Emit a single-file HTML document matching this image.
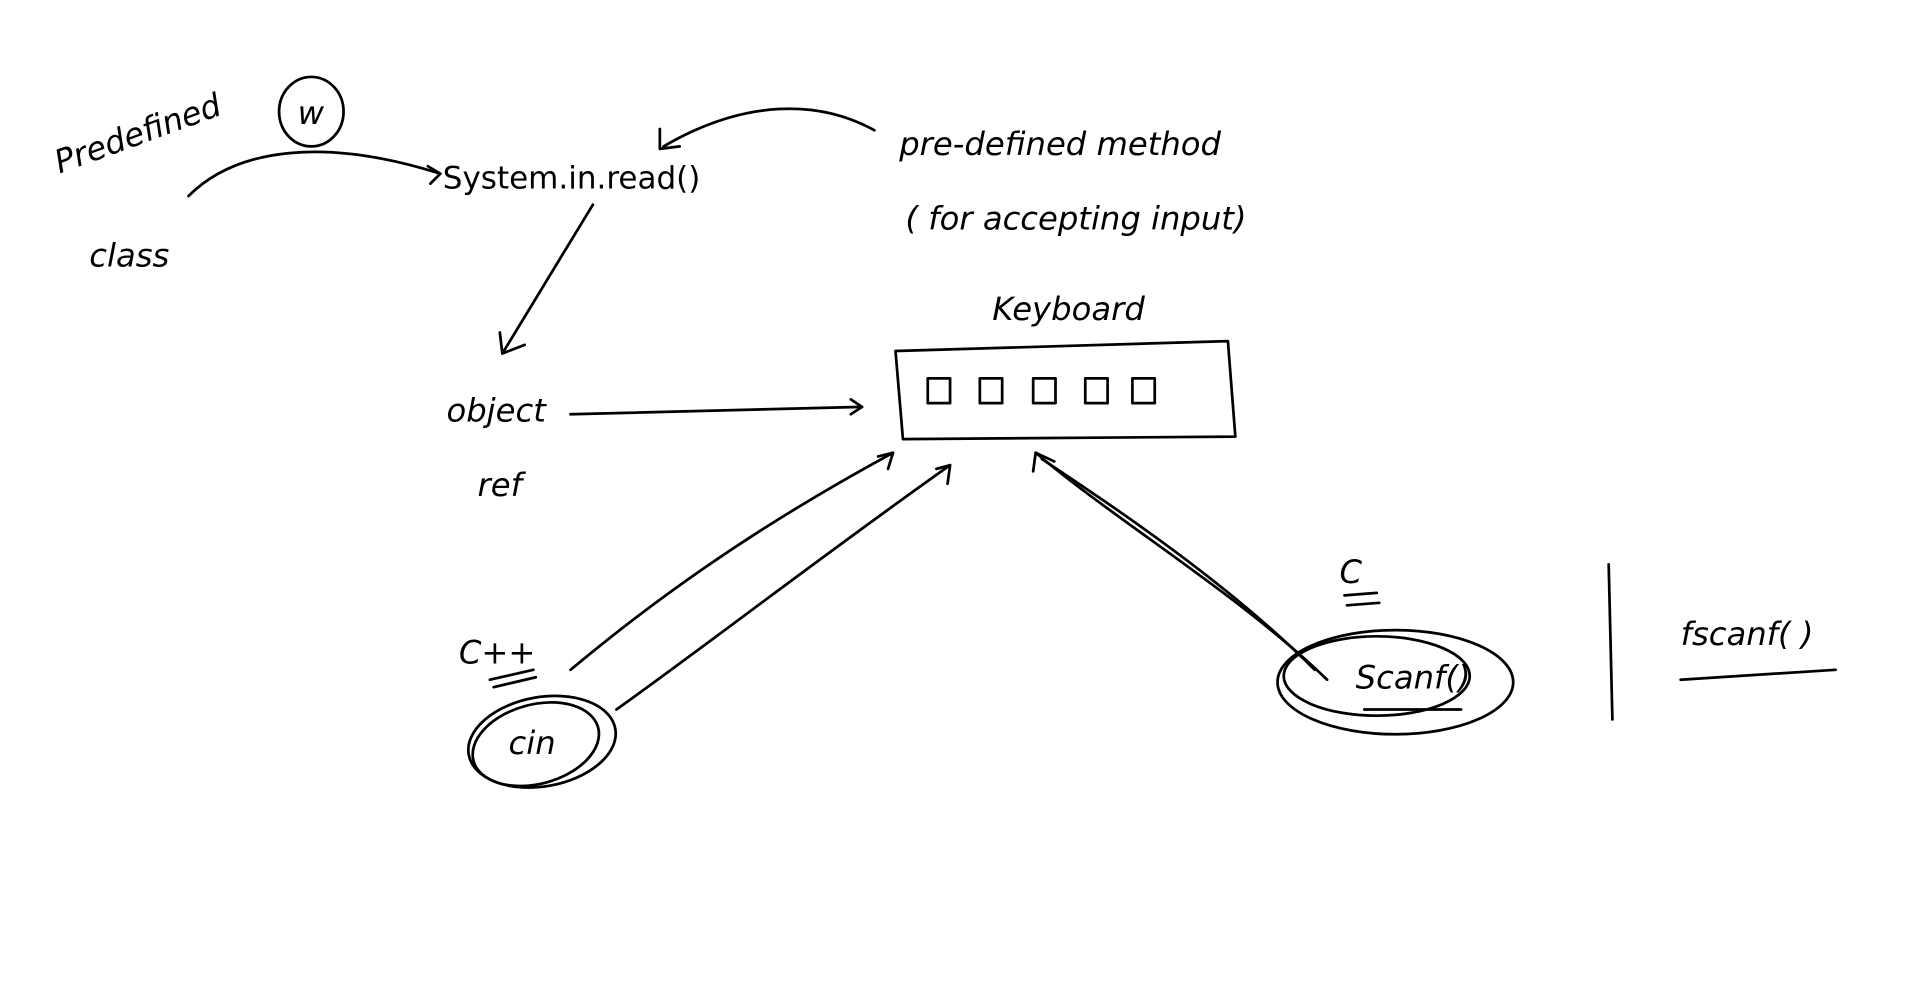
<!DOCTYPE html>
<html><head><style>
html,body{margin:0;padding:0;background:#fff;width:1920px;height:1001px;overflow:hidden}
svg{display:block}
.h{font-family:"DejaVu Sans","Liberation Sans",sans-serif;font-size:26px;fill:#000;font-style:italic}
</style></head><body>
<svg width="1920" height="1001" viewBox="0 0 1548 807" xmlns="http://www.w3.org/2000/svg">
<g fill="none" stroke="#000" stroke-width="2.2" stroke-linecap="round" stroke-linejoin="round">
<ellipse cx="251" cy="90" rx="26" ry="28"/>
<path d="M152 158 C190 120 260 110 355 140"/>
<path d="M345 134 L355 140 L347 148"/>
<path d="M705 105 C660 80 600 80 535 118"/>
<path d="M532 104 L532 120 L548 118"/>
<path d="M478 165 L405 285"/>
<path d="M403 268 L405 285 L423 278"/>
<path d="M460 334 L695 328"/>
<path d="M686 322 L695 328 L686 334"/>
<path d="M722 283 L990 275 L996 352 L728 354 Z"/>
<path d="M748 305h18v20h-18z M790 305h18v20h-18z M833 305h18v20h-18z M875 305h18v20h-18z M913 305h18v20h-18z"/>
<path d="M460 540 C520 490 600 430 720 365"/>
<path d="M708 368 L720 365 L716 378"/>
<path d="M497 572 C570 520 660 450 766 375"/>
<path d="M755 378 L766 375 L764 390"/>
<ellipse cx="437" cy="598" rx="60" ry="36" transform="rotate(-10 437 598)"/>
<ellipse cx="432" cy="600" rx="52" ry="32" transform="rotate(-15 432 600)"/>
<path d="M395 548 L430 540 M398 554 L432 546"/>
<ellipse cx="1125" cy="550" rx="95" ry="42"/>
<ellipse cx="1110" cy="545" rx="75" ry="32"/>
<path d="M1100 572 L1178 572"/>
<path d="M1070 548 C1000 480 900 420 835 365"/>
<path d="M1060 540 C990 470 900 410 840 370"/>
<path d="M833 380 L835 365 L850 372"/>
<path d="M1084 480 L1110 478 M1086 488 L1112 486"/>
<path d="M1297 455 L1300 580"/>
<path d="M1355 548 L1480 540"/>
</g>
<text class="h" x="240" y="100" font-size="22">w</text>
<text x="357" y="152" font-family="DejaVu Sans,Liberation Sans,sans-serif" font-size="25">System.in.read()</text>
<text class="h" x="48" y="140" transform="rotate(-20 48 140)">Predefined</text>
<text class="h" x="72" y="215">class</text>
<text class="h" x="725" y="125">pre-defined  method</text>
<text class="h" x="730" y="185">( for  accepting  input)</text>
<text class="h" x="800" y="258">Keyboard</text>
<text class="h" x="360" y="340">object</text>
<text class="h" x="385" y="400">ref</text>
<text class="h" x="370" y="535">C++</text>
<text class="h" x="410" y="608" font-size="24">cin</text>
<text class="h" x="1080" y="470">C</text>
<text class="h" x="1093" y="555" font-size="24">Scanf()</text>
<text class="h" x="1355" y="520">fscanf( )</text>
</svg>
</body></html>
